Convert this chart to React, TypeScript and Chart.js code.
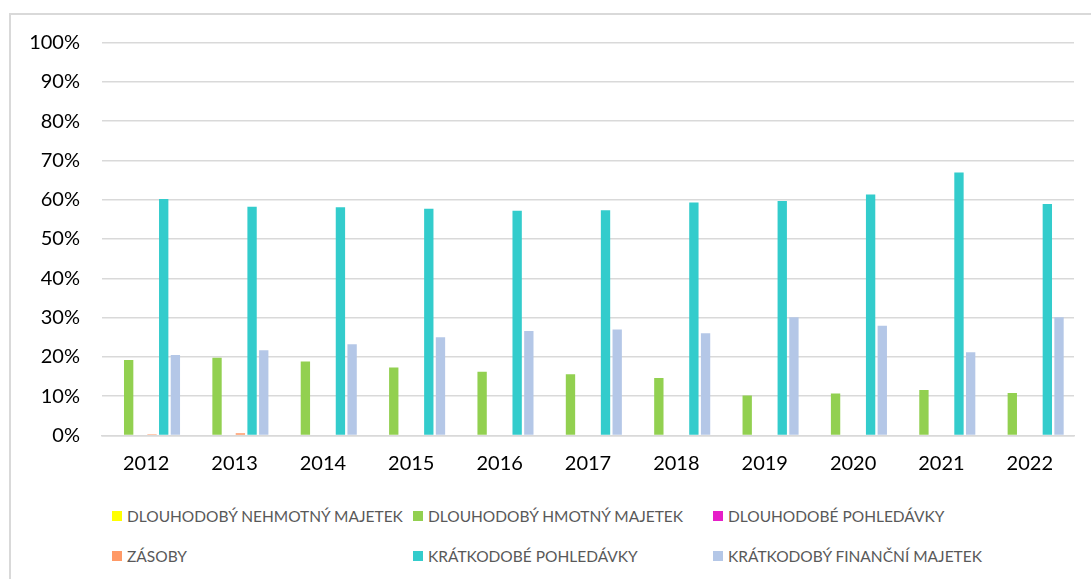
import React, { useEffect, useRef } from "react";
import { Chart, registerables } from "chart.js";

Chart.register(...registerables);

const categories = ["2012", "2013", "2014", "2015", "2016", "2017", "2018", "2019", "2020", "2021", "2022"];
const seriesLabels = [
  "DLOUHODOBÝ NEHMOTNÝ MAJETEK",
  "DLOUHODOBÝ HMOTNÝ MAJETEK",
  "DLOUHODOBÉ POHLEDÁVKY",
  "ZÁSOBY",
  "KRÁTKODOBÉ POHLEDÁVKY",
  "KRÁTKODOBÝ FINANČNÍ MAJETEK",
];
const nehmotny = [0, 0, 0, 0, 0, 0, 0, 0, 0, 0, 0];
const hmotny = [19.2, 19.8, 18.8, 17.3, 16.2, 15.6, 14.6, 10.2, 10.7, 11.6, 10.8];
const dlPohledavky = [0, 0, 0, 0, 0, 0, 0, 0, 0, 0, 0];
const zasoby = [0.3, 0.6, 0, 0, 0, 0, 0, 0, 0, 0, 0];
const krPohledavky = [60.2, 58.2, 58.1, 57.7, 57.2, 57.3, 59.3, 59.7, 61.3, 66.9, 58.9];
const krFinancni = [20.5, 21.7, 23.2, 25.0, 26.6, 27.0, 26.0, 30.1, 27.9, 21.2, 30.1];
const yTicks = [0, 10, 20, 30, 40, 50, 60, 70, 80, 90, 100];

const colors = ["#ffff00", "#92d050", "#e61ec8", "#ff9966", "#33cccc", "#b4c7e7"];
const seriesData = [nehmotny, hmotny, dlPohledavky, zasoby, krPohledavky, krFinancni];

const FONT = "Lato, 'Open Sans', sans-serif";

// legend layout (page coords of box left / row center)
const legendCols = [112, 413, 713];
const legendRows = [516, 556];

export default function App() {
  const ref = useRef<HTMLCanvasElement | null>(null);

  useEffect(() => {
    document.body.style.overflow = "hidden";
    const canvas = ref.current;
    if (!canvas) return;
    const chart = new Chart(canvas, {
      type: "bar",
      data: {
        labels: categories,
        datasets: seriesLabels.map((label, i) => ({
          label,
          data: seriesData[i],
          backgroundColor: colors[i],
          borderWidth: 0,
          categoryPercentage: 0.793,
          barPercentage: 0.8,
        })),
      },
      options: {
        responsive: false,
        animation: false,
        maintainAspectRatio: false,
        layout: { padding: { top: 27.5, right: 17, bottom: 0, left: 0 } },
        plugins: {
          legend: { display: false },
          tooltip: { enabled: false },
          title: { display: false },
        },
        scales: {
          x: {
            grid: { display: false, drawTicks: false },
            border: { display: true, color: "#d9d9d9", width: 1.5 },
            ticks: {
              color: "#000000",
              font: { family: FONT, size: 20 },
              padding: 16,
              maxRotation: 0,
              autoSkip: false,
            },
            afterFit: (s: any) => {
              s.height = 470 - 420.5;
            },
          },
          y: {
            min: 0,
            max: 100,
            afterBuildTicks: (s: any) => {
              s.ticks = yTicks.map((v) => ({ value: v }));
            },
            grid: { color: "#d9d9d9", lineWidth: 1.5, drawTicks: false },
            border: { display: false },
            ticks: {
              color: "#000000",
              font: { family: FONT, size: 20 },
              padding: 22,
              callback: (v: any) => `${v}%`,
            },
            afterFit: (s: any) => {
              s.width = 91;
              s.paddingTop = 0;
              s.paddingBottom = 0;
            },
          },
        },
      },
    });
    return () => chart.destroy();
  }, []);

  return (
    <div
      style={{
        position: "absolute",
        left: 9,
        top: 13,
        width: 1100,
        height: 600,
        borderTop: "2px solid #d9d9d9",
        borderLeft: "2px solid #d9d9d9",
        background: "#ffffff",
      }}
    >
      <canvas ref={ref} width={1080} height={470} style={{ position: "absolute", left: 0, top: 0, width: 1080, height: 470 }} />
      {seriesLabels.map((label, i) => {
        const col = i % 3;
        const row = Math.floor(i / 3);
        return (
          <div
            key={label}
            style={{
              position: "absolute",
              left: legendCols[col] - 11,
              top: legendRows[row] - 15 - 10,
              height: 20,
              display: "flex",
              alignItems: "center",
              whiteSpace: "nowrap",
              fontFamily: FONT,
              fontSize: 15.5,
              color: "#595959",
            }}
          >
            <span style={{ display: "inline-block", width: 10, height: 10, background: colors[i], marginRight: 5 }} />
            <span>{label}</span>
          </div>
        );
      })}
    </div>
  );
}
